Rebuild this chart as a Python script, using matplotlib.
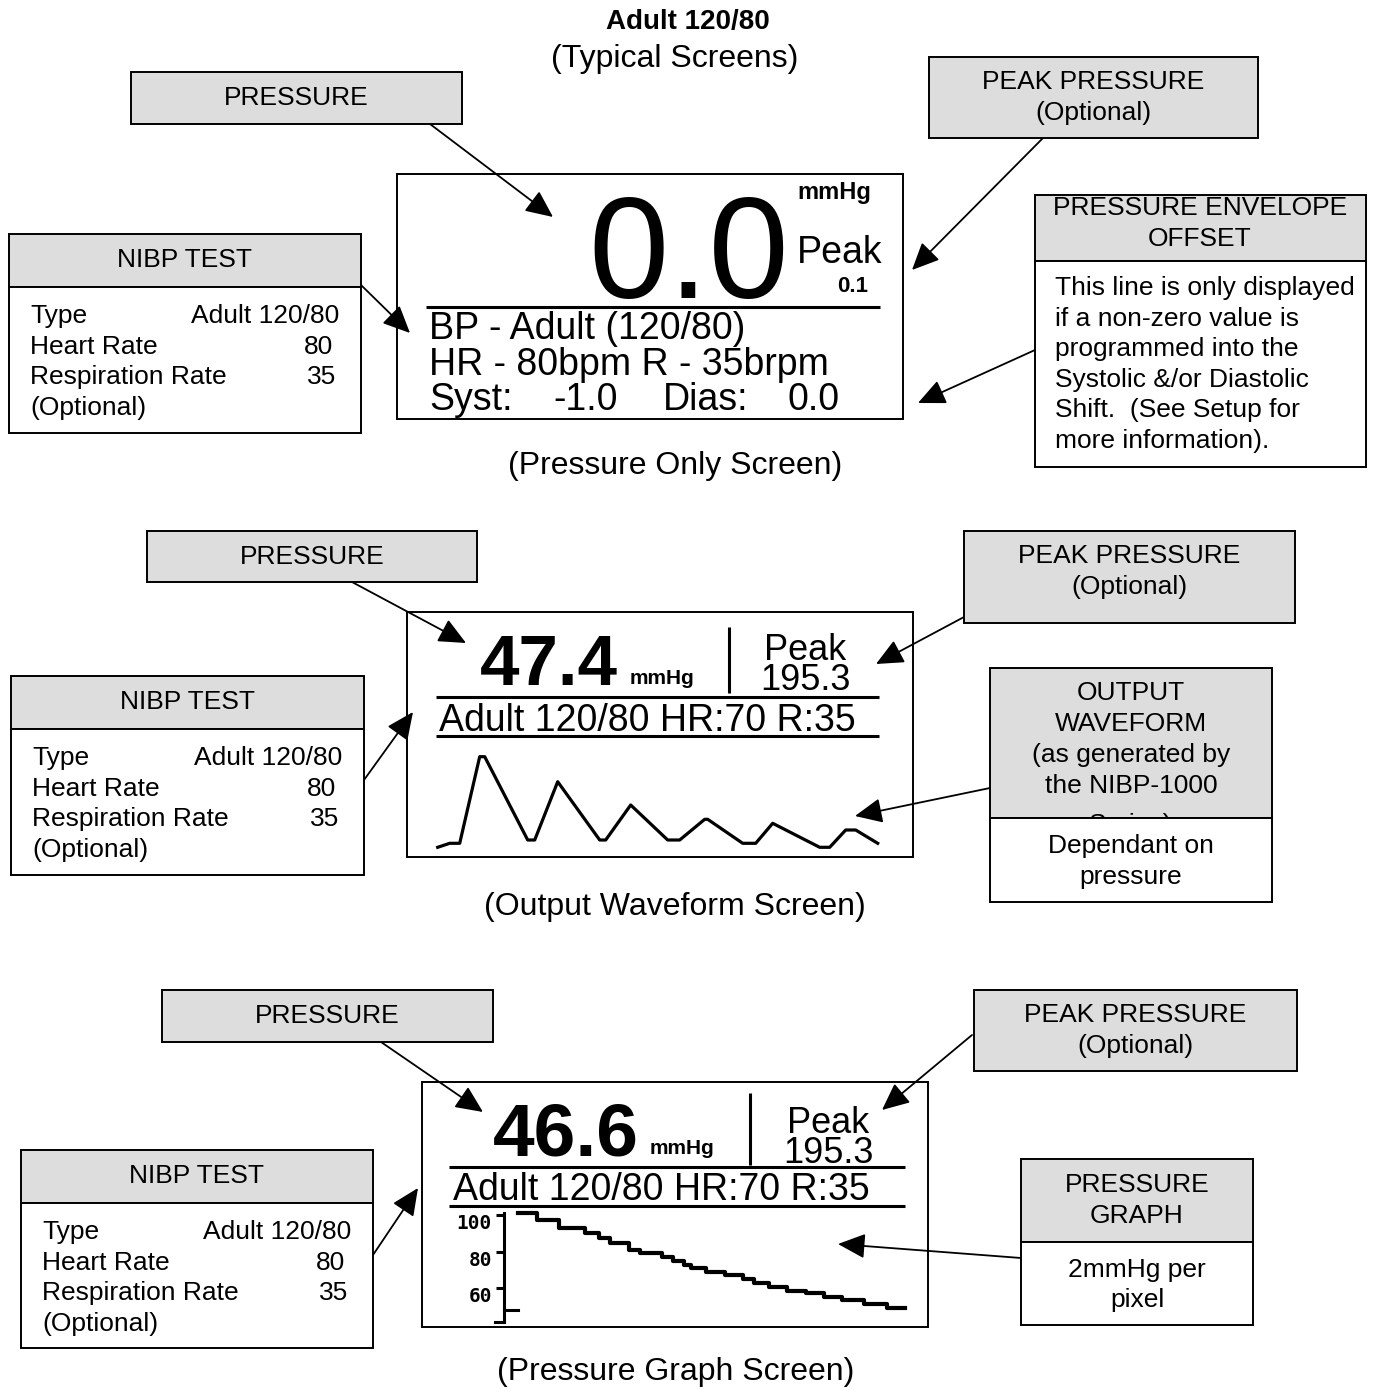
"""NIBP simulator typical screens (Adult 120/80)"""

import matplotlib
matplotlib.use('Agg')
import matplotlib.pyplot as plt
from matplotlib.patches import Rectangle
from matplotlib.transforms import Bbox

# ---- data -------------------------------------------------------------
nibp_type = 'Adult 120/80'
nibp_hr = 80
nibp_resp = 35
display_hr = 70
syst_shift = -1.0
dias_shift = 0.0

screen_pressure = [0.0, 47.4, 46.6]
screen_peak = [0.1, 195.3, 195.3]
screen_captions = ['(Pressure Only Screen)', '(Output Waveform Screen)',
                   '(Pressure Graph Screen)']

# output waveform as drawn on the LCD (time in px, relative amplitude)
wave_t = [0, 12, 22, 42, 47, 90, 97, 120, 162, 168, 193, 230, 242,
          267, 270, 305, 318, 335, 382, 392, 408, 418, 440]
wave_p = [2.7, 6.7, 6.7, 93.3, 93.3, 10, 10, 68.3, 10, 10, 45, 10, 10,
          30.7, 30.7, 6.7, 6.7, 26.7, 2.7, 2.7, 20, 20, 6.7]

# pressure graph history (LCD column, mmHg)
graph_t = [0, 5, 11, 18, 22, 25, 30, 33, 39, 42, 45, 47, 51, 56, 61, 64,
           68, 73, 78, 83, 88, 94, 100, 105]
graph_p = [100.9, 97.3, 92.7, 90.0, 87.3, 84.5, 80.9, 79.1, 77.3, 74.9,
           72.7, 70.9, 69.1, 67.3, 65.1, 63.1, 60.9, 58.7, 57.3, 55.5,
           53.6, 51.5, 49.1]
graph_ticks = [100, 80, 60]

# ---- style ------------------------------------------------------------
W, H = 1388, 1390
SANS = ['Liberation Sans', 'DejaVu Sans']
MONO = ['DejaVu Sans Mono']
GRAY = '#dddddd'
BOX_FS = 19
CAP_FS = 23

fig = plt.figure(figsize=(W / 100, H / 100), dpi=100)
ax = fig.add_axes([0, 0, 1, 1])
ax.set_xlim(0, W)
ax.set_ylim(H, 0)
ax.axis('off')


def box(x0, y0, x1, y1, fc='white', z=4, lw=1.4):
    r = Rectangle((x0, y0), x1 - x0, y1 - y0, facecolor=fc,
                  edgecolor='black', linewidth=lw, zorder=z)
    ax.add_patch(r)
    return r


def label(x, y, s, size=BOX_FS, **kw):
    kw.setdefault('ha', 'center')
    kw.setdefault('va', 'center')
    return ax.text(x, y, s, fontsize=size, family=SANS, zorder=6, **kw)


def lcd(x, y, s, size, weight='normal', ha='left', **kw):
    return ax.text(x, y, s, fontsize=size, family=SANS, weight=weight,
                   ha=ha, va='baseline', zorder=2, **kw)


def hline(y, x0, x1, lw=2.2):
    ax.plot([x0, x1], [y, y], color='black', lw=lw, zorder=2,
            solid_capstyle='butt')


def vline(x, y0, y1, lw=2.2):
    ax.plot([x, x], [y0, y1], color='black', lw=lw, zorder=2,
            solid_capstyle='butt')


def arrow(start, end):
    ax.annotate('', xy=end, xytext=start, zorder=3,
                arrowprops=dict(arrowstyle='-|>,head_length=1.05,head_width=0.48',
                                mutation_scale=16, lw=1.3, color='black',
                                shrinkA=0, shrinkB=0))


def inset(x0, y0, x1, y1):
    a = fig.add_axes([x0 / W, 1 - y1 / H, (x1 - x0) / W, (y1 - y0) / H])
    a.patch.set_visible(False)
    return a


def pressure_box(x0, y0, x1, y1):
    box(x0, y0, x1, y1, fc=GRAY)
    label((x0 + x1) / 2, (y0 + y1) / 2, 'PRESSURE')


def peak_box(x0, y0, x1, y1):
    box(x0, y0, x1, y1, fc=GRAY)
    cx = (x0 + x1) / 2
    label(cx, y0 + 25, 'PEAK PRESSURE')
    label(cx, y0 + 56, '(Optional)')


def nibp_box(x0, y0, x1, y1):
    box(x0, y0, x1, y0 + 53, fc=GRAY)
    box(x0, y0 + 53, x1, y1)
    label((x0 + x1) / 2, y0 + 26, 'NIBP TEST')
    rows = [('Type', nibp_type, 22), ('Heart Rate', str(nibp_hr), 28),
            ('Respiration Rate', str(nibp_resp), 25), ('(Optional)', '', 0)]
    for i, (name, val, rpad) in enumerate(rows):
        yy = y0 + 82 + i * 30.5
        label(x0 + 21, yy, name, ha='left')
        if val:
            label(x1 - rpad, yy, val, ha='right')


def peak_readout(x, y, value):
    # two LCD lines in one text, tight line spacing like the display
    lcd(x, y, f'Peak\n{value:.1f}', 26, ha='center', multialignment='center',
        linespacing=0.8)


# ---- title ------------------------------------------------------------
ax.text(688, 22, 'Adult 120/80', fontsize=20, weight='bold', family=SANS,
        ha='center', va='center')
ax.text(675, 59, '(Typical Screens)', fontsize=CAP_FS, family=SANS,
        ha='center', va='center')

# ---- screen 1: pressure only -----------------------------------------
box(397, 174, 903, 419, z=1)
lcd(689, 298, f'{screen_pressure[0]:.1f}', 104, ha='center')
lcd(797, 199, 'mmHg', 17, weight='bold')
lcd(797, 263, 'Peak', 27)
lcd(868, 292, f'{screen_peak[0]:.1f}', 16, weight='bold', ha='right')
hline(307, 426, 880)
lcd(429, 339, f'BP - {nibp_type.split()[0]} ({nibp_type.split()[1]})', 27)
lcd(429, 375, f'HR - {nibp_hr}bpm R - {nibp_resp}brpm', 27)
lcd(429, 410, 'Syst:', 27)
lcd(553, 410, f'{syst_shift:.1f}', 27)
lcd(663, 410, 'Dias:', 27)
lcd(788, 410, f'{dias_shift:.1f}', 27)

arrow((430, 124), (553, 217))
arrow((1043, 138), (912, 270))
arrow((361, 285), (410, 333))
arrow((1035, 350), (918, 403))

pressure_box(131, 72, 462, 124)
peak_box(929, 57, 1258, 138)
nibp_box(9, 234, 361, 433)

box(1035, 195, 1366, 261, fc=GRAY)
box(1035, 261, 1366, 467)
label(1200, 208, 'PRESSURE ENVELOPE')
label(1200, 239, 'OFFSET')
env_lines = ['This line is only displayed', 'if a non-zero value is',
             'programmed into the', 'Systolic &/or Diastolic',
             'Shift.  (See Setup for', 'more information).']
for i, s in enumerate(env_lines):
    label(1055, 288 + i * 30.6, s, ha='left')

label(675, 466, screen_captions[0], size=CAP_FS)

# ---- screen 2: output waveform ---------------------------------------
box(407, 612, 913, 857, z=1)
lcd(480, 685, f'{screen_pressure[1]:.1f}', 51, weight='bold')
lcd(630, 684, 'mmHg', 15, weight='bold')
vline(729, 627, 693)
peak_readout(805, 690, screen_peak[1])
hline(697, 436, 879)
hline(736, 436, 879)
lcd(439, 731, f'{nibp_type} HR:{display_hr} R:{nibp_resp}', 27)

wv = inset(437.7, 750, 877.7, 850)
wv.set_xlim(0, 440)
wv.set_ylim(0, 100)
wv.axis('off')
wv.plot(wave_t, wave_p, color='black', lw=2.3, clip_on=False)

arrow((352, 582), (466, 643))
arrow((964, 617), (876, 664))
arrow((364, 780), (413, 712))
arrow((990, 788), (855, 816))

pressure_box(147, 531, 477, 582)
peak_box(964, 531, 1295, 623)
nibp_box(11, 676, 364, 875)

box(990, 668, 1272, 818, fc=GRAY)
box(990, 818, 1272, 902)
# header text overflows its box in the original, so clip it to the box
hdr_clip = Bbox(ax.transData.transform([[990, 818], [1272, 668]]))
for i, s in enumerate(['OUTPUT', 'WAVEFORM', '(as generated by',
                       'the NIBP-1000', 'Series)']):
    t = label(1131, 693 + i * 31 + (8 if i == 4 else 0), s)
    t.set_clip_box(hdr_clip)
    t.set_clip_on(True)
label(1131, 846, 'Dependant on')
label(1131, 877, 'pressure')

label(675, 907, screen_captions[1], size=CAP_FS)

# ---- screen 3: pressure graph ----------------------------------------
box(422, 1082, 928, 1327, z=1)
lcd(493, 1155, f'{screen_pressure[2]:.1f}', 54, weight='bold')
lcd(650, 1154, 'mmHg', 15, weight='bold')
vline(750, 1093, 1165)
peak_readout(828, 1163, screen_peak[2])
hline(1167, 449, 905)
hline(1206, 449, 905)
lcd(453, 1200, f'{nibp_type} HR:{display_hr} R:{nibp_resp}', 27)

g = inset(518.3, 1205.8, 905, 1325)
g.set_xlim(0, 105)
g.set_ylim(40, 105)
g.step(graph_t, graph_p + [graph_p[-1]], where='post', color='black',
       lw=3, clip_on=False)
for side in ['top', 'right', 'bottom']:
    g.spines[side].set_visible(False)
g.spines['left'].set_position(('data', -4))
g.spines['left'].set_bounds(41.8, 100.9)
g.spines['left'].set_linewidth(2.2)
g.set_xticks([])
g.set_yticks(graph_ticks)
g.set_yticklabels([])
g.tick_params(axis='y', direction='out', length=6, width=2.2)
for v in graph_ticks:
    g.text(-7.2, v + 0.5, str(v), ha='right', va='top', fontsize=14,
           family=MONO, weight='bold', clip_on=False)
g.plot([-4, 0], [48.2, 48.2], color='black', lw=2.2, clip_on=False)
g.plot([-6.2, -4], [41.8, 41.8], color='black', lw=2.2, clip_on=False)

arrow((381, 1042), (483, 1112))
arrow((972, 1035), (882, 1110))
arrow((373, 1255), (418, 1188))
arrow((1021, 1258), (838, 1244))

pressure_box(162, 990, 493, 1042)
peak_box(974, 990, 1297, 1071)
nibp_box(21, 1150, 373, 1348)

box(1021, 1159, 1253, 1242, fc=GRAY)
box(1021, 1242, 1253, 1325)
label(1137, 1185, 'PRESSURE')
label(1137, 1216, 'GRAPH')
label(1137, 1270, '2mmHg per')
label(1137, 1300, 'pixel')

label(676, 1372, screen_captions[2], size=CAP_FS)

fig.savefig('out.png', dpi=100)
plt.close(fig)
